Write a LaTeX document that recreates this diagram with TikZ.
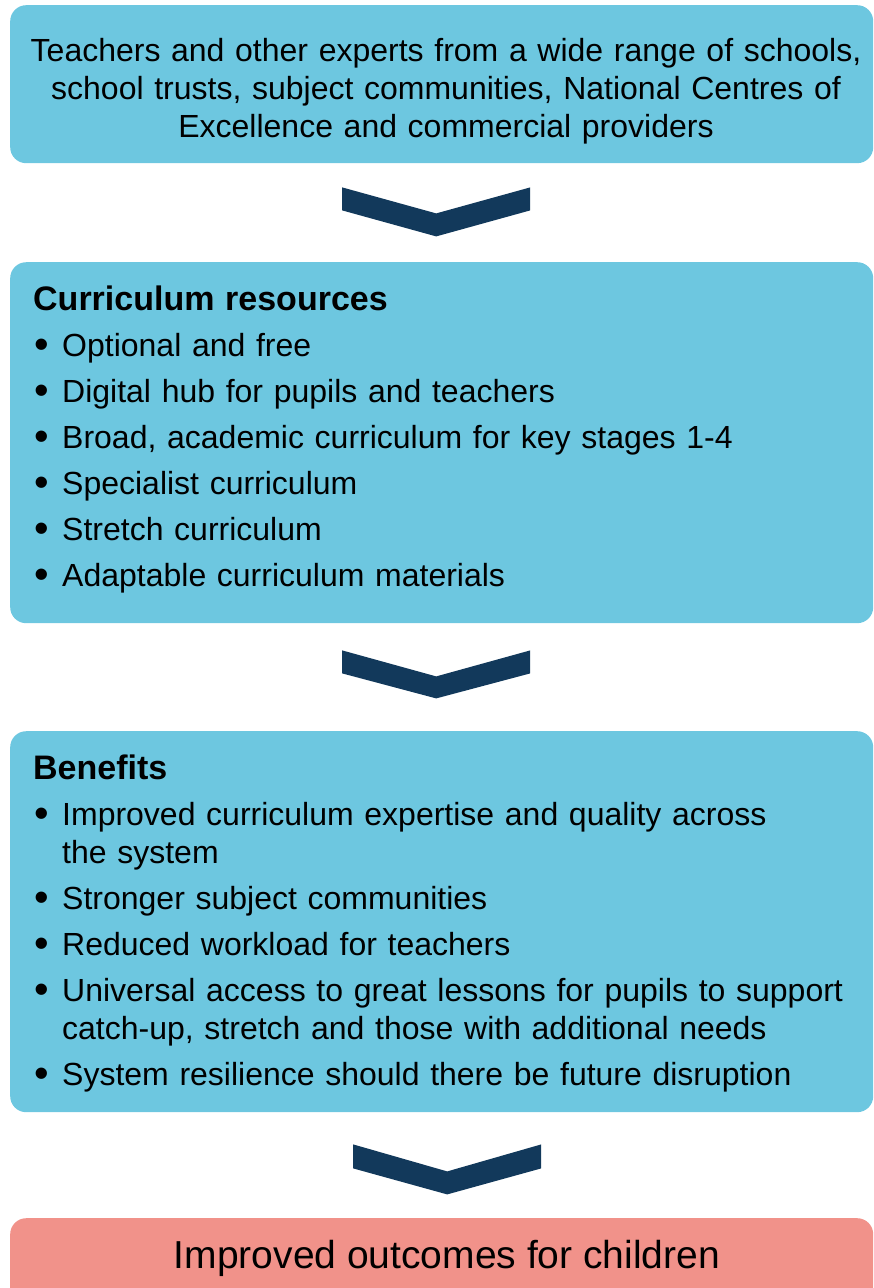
\documentclass[tikz,border=0pt]{standalone}
\usepackage{fontspec}
\setmainfont{Liberation Sans}
\definecolor{boxblue}{HTML}{6DC7E0}
\definecolor{chevnavy}{HTML}{12395B}
\definecolor{outcomepink}{HTML}{F1928A}
\newcommand{\bodyfont}{\fontsize{32}{38}\selectfont}
\newcommand{\headfont}{\fontsize{34}{38}\selectfont\bfseries}
\newcommand{\bulletitem}[1]{\par\vspace{8pt}\hangindent=29pt\hangafter=1\noindent\makebox[29pt][l]{\hspace{1pt}\raisebox{-2pt}{\scalebox{1.3}{\textbullet}}}#1}
\begin{document}
\begin{tikzpicture}[x=1pt,y=-1pt,
    box/.style={fill=boxblue,rounded corners=16pt,anchor=north west,inner sep=0,minimum width=863pt},
    listtext/.style={anchor=base west,inner sep=0,text width=830pt,align=left,font=\bodyfont},
    chevron/.style={fill=chevnavy}]
    \useasboundingbox (0,0) rectangle (874,1288);
    \clip (0,0) rectangle (874,1288);
    %% Boxes
    \node[box,minimum height=158pt] (src) at (10,5) {};
    \node[box,minimum height=361pt] (res) at (10,262) {};
    \node[box,minimum height=381pt] (ben) at (10,731) {};
    \node[box,fill=outcomepink,minimum height=100pt] (out) at (10,1218) {};
    %% Texts
    \node[anchor=base,inner sep=0,text width=840pt,align=center,font=\bodyfont] (srctext) at (446,61)
        {Teachers and other experts from a wide range of schools,\\
         school trusts, subject communities, National Centres of\\
         Excellence and commercial providers};
    \node[listtext] (restext) at (33,310)
        {{\headfont Curriculum resources}
         \bulletitem{Optional and free}
         \bulletitem{Digital hub for pupils and teachers}
         \bulletitem{Broad, academic curriculum for key stages 1-4}
         \bulletitem{Specialist curriculum}
         \bulletitem{Stretch curriculum}
         \bulletitem{Adaptable curriculum materials}};
    \node[listtext] (bentext) at (33,779)
        {{\headfont Benefits}
         \bulletitem{Improved curriculum expertise and quality across\newline the system}
         \bulletitem{Stronger subject communities}
         \bulletitem{Reduced workload for teachers}
         \bulletitem{Universal access to great lessons for pupils to support\newline catch-up, stretch and those with additional needs}
         \bulletitem{System resilience should there be future disruption}};
    \node[anchor=base,inner sep=0,font=\fontsize{39}{44}\selectfont] (outtext) at (447,1268)
        {Improved outcomes for children};
    %% Chevrons
    \fill[chevron] ([shift={(-99.5,24)}]src.south) -- ++(94,26) -- ++(94,-26) -- ++(0,23) -- ++(-94,26) -- ++(-94,-26) -- cycle;
    \fill[chevron] ([shift={(-99.5,27)}]res.south) -- ++(94,26) -- ++(94,-26) -- ++(0,23) -- ++(-94,25) -- ++(-94,-25) -- cycle;
    \fill[chevron] ([shift={(-88.5,32)}]ben.south) -- ++(94,27) -- ++(94,-27) -- ++(0,24) -- ++(-94,26) -- ++(-94,-26) -- cycle;
\end{tikzpicture}
\end{document}
